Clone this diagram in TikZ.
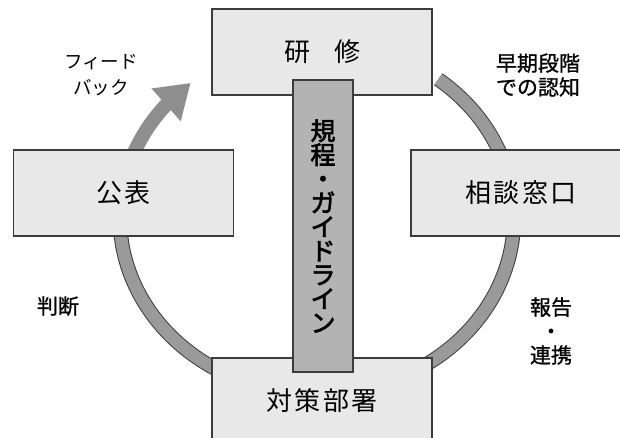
\documentclass[tikz,border=0pt]{standalone}
\usepackage{fontspec}
\setmainfont{Noto Sans CJK JP}
\newfontfamily\jpbold[FakeBold=2.5]{Noto Sans CJK JP}
\newfontfamily\jpsemi[FakeBold=1]{Noto Sans CJK JP}
\newfontfamily\jpbox[LetterSpace=8]{Noto Sans CJK JP}
\usetikzlibrary{calc}
\definecolor{boxfill}{HTML}{E8E8E8}
\definecolor{midfill}{HTML}{B3B3B3}
\definecolor{ringfill}{HTML}{9A9A9A}
\definecolor{arrowfill}{HTML}{8E8E8E}
\definecolor{edge}{HTML}{3C3C3C}
\tikzset{
  box/.style={draw=edge, line width=1.3pt, fill=boxfill, minimum width=220pt,
    minimum height=86pt, inner sep=0pt, font=\jpbox\fontsize{26}{28}\selectfont},
  midbox/.style={draw=edge, line width=1.3pt, fill=midfill, minimum width=60pt,
    minimum height=292pt, inner sep=0pt, align=center,
    font=\jpbold\fontsize{25}{24}\selectfont},
  ringline/.style={draw=edge, line width=1pt, double=ringfill, double distance=12.5pt},
  label/.style={align=center, inner sep=0pt, font=\jpsemi\fontsize{21}{24}\selectfont}
}
\begin{document}
\begin{tikzpicture}[x=1pt,y=1pt]
\useasboundingbox (0,0) rectangle (620,437);
\coordinate (C) at (317,219);
% ring
\draw[ringline] ($(C)+(165:197 and 176)$) arc[start angle=165, end angle=412, x radius=197, y radius=176];
% feedback arrow
\coordinate (tip) at ($(C)+(130:197 and 176)$);
\coordinate (base) at ($(C)+(140:197 and 176)$);
\draw[arrowfill, line width=14pt] ($(C)+(172:197 and 176)$) arc[start angle=172, end angle=139, x radius=197, y radius=176];
\fill[arrowfill] (tip) -- ($(base)!22pt!90:(tip)$) -- ($(base)!22pt!-90:(tip)$) -- cycle;
% boxes
\node[box] (kenshu) at (322,385) {研\hspace{24pt}修};
\node[box] (kohyo) at (123.5,244) {公表};
\node[box] (sodan) at (521,244) {相談窓口};
\node[box] (taisaku) at (322,36) {対策部署};
\node[midbox] (kitei) at (323,211) {規\\程\\・\\ガ\\イ\\ド\\ラ\\イ\\ン};
% labels
\node[align=center, inner sep=0pt, font=\fontsize{18.5}{26}\selectfont] (fb) at (101,362) {フィード\\バック};
\node[label] (soki) at (538,362) {早期段階\\での認知};
\node[label] (handan) at (58,131) {判断};
\node[label] (hokoku) at (551,106) {報告\\・\\連携};
\end{tikzpicture}
\end{document}
